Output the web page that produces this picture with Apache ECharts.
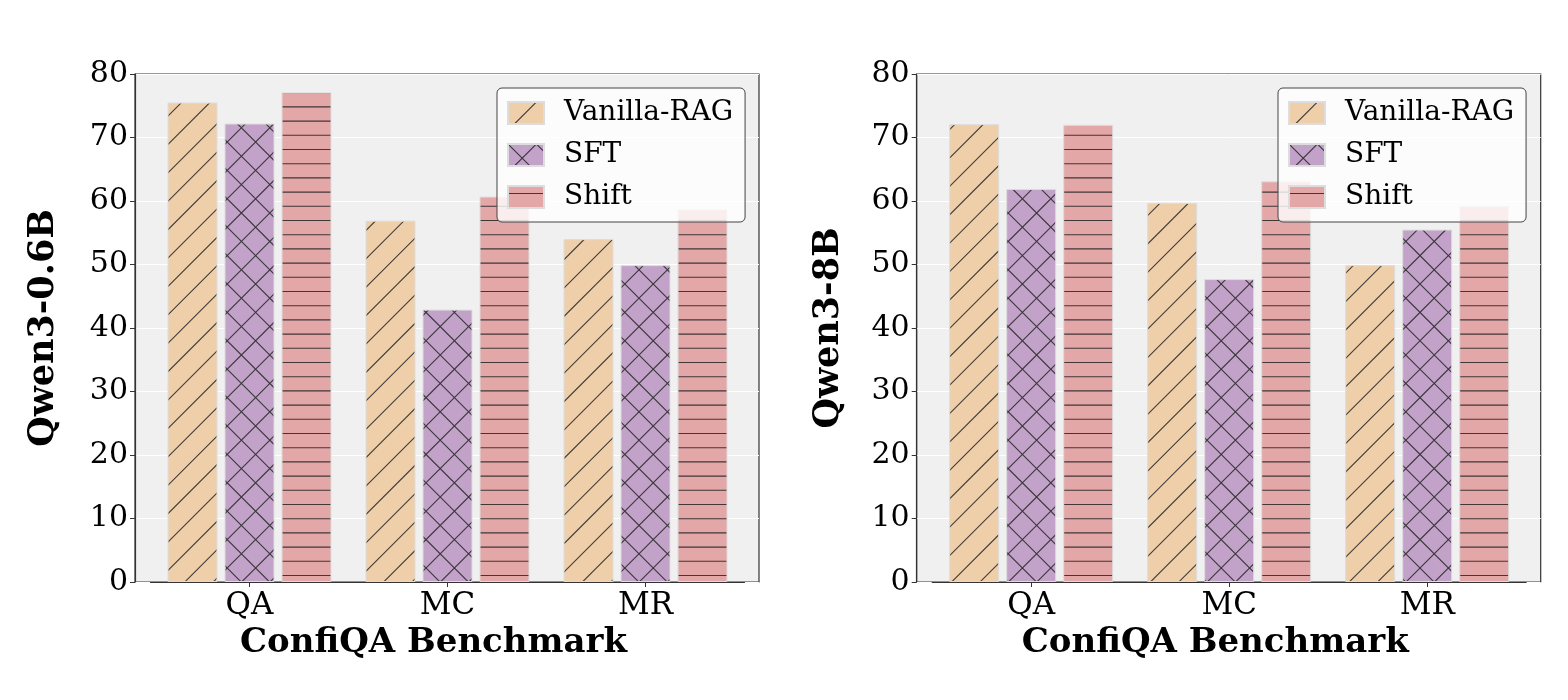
<!DOCTYPE html>
<html>
<head>
<meta charset="utf-8">
<title>ConfiQA Benchmark</title>
<script src="https://cdn.jsdelivr.net/npm/echarts@6/dist/echarts.min.js"></script>
<style>
  html, body { margin: 0; padding: 0; background: #fff; }
  #chart { width: 1568px; height: 700px; }
</style>
</head>
<body>
<div id="chart"></div>
<script>
// data
const categories = ['QA', 'MC', 'MR']
const seriesNames = ['Vanilla-RAG', 'SFT', 'Shift']
const yTicks = [0, 10, 20, 30, 40, 50, 60, 70, 80]

const smallVanilla = [75.5, 56.9, 54.0]
const smallSft = [72.2, 42.9, 49.9]
const smallShift = [77.1, 60.7, 58.7]

const bigVanilla = [72.1, 59.7, 49.9]
const bigSft = [61.9, 47.7, 55.5]
const bigShift = [72.0, 63.1, 59.2]

const FONT = 'DejaVu Serif'
const colors = ['#EFCFAA', '#C2A2C8', '#E4A7A8']

// 斜线 / 交叉 / 横线 填充
const makeHatch = (base, kind) => {
  const T = 142
  const step = 28.4
  const c = document.createElement('canvas')
  c.width = T
  c.height = T
  const ctx = c.getContext('2d')
  ctx.fillStyle = base
  ctx.fillRect(0, 0, T, T)
  ctx.strokeStyle = 'rgba(35,35,35,0.85)'
  ctx.lineWidth = 1.1
  ctx.beginPath()
  if (kind === '/' || kind === 'x') {
    for (let k = 0; k <= 10; k++) {
      const v = k * step
      ctx.moveTo(-20, v + 20)
      ctx.lineTo(v + 20, -20)
    }
  }
  if (kind === 'x') {
    for (let k = -5; k <= 5; k++) {
      const v = k * step
      ctx.moveTo(v - 20, -20)
      ctx.lineTo(v + T + 20, T + 20)
    }
  }
  if (kind === '-') {
    for (let k = 0; k < 10; k++) {
      const y = k * step / 2 + 7.5
      ctx.moveTo(0, y)
      ctx.lineTo(T, y)
    }
  }
  ctx.stroke()
  return { image: c, repeat: 'repeat' }
}

const fills = [
  makeHatch(colors[0], '/'),
  makeHatch(colors[1], 'x'),
  makeHatch(colors[2], '-')
]

// 外框 + 数据区
const panels = [
  { frameLeft: 135, name: 'Qwen3-0.6B', nameGap: 74, legendLeft: 497, values: [smallVanilla, smallSft, smallShift] },
  { frameLeft: 916.7, name: 'Qwen3-8B', nameGap: 70, legendLeft: 1278, values: [bigVanilla, bigSft, bigShift] }
]
const TOP = 74
const BOTTOM = 118
const FRAME_W = 624
const DATA_INSET = 15.5
const DATA_W = 594

const grid = []
const xAxis = []
const yAxis = []
const series = []
const legend = []

panels.forEach((p, i) => {
  const fg = i * 2
  const dg = i * 2 + 1
  grid.push({
    left: p.frameLeft, top: TOP, width: FRAME_W, bottom: BOTTOM,
    show: true, backgroundColor: '#F0F0F0', borderColor: '#333', borderWidth: 1.2
  })
  grid.push({ left: p.frameLeft + DATA_INSET, top: TOP, width: DATA_W, bottom: BOTTOM })

  xAxis.push({ type: 'category', gridIndex: fg, data: categories, show: false })
  xAxis.push({
    type: 'category',
    gridIndex: dg,
    data: categories,
    z: 5,
    axisLine: { show: true, lineStyle: { color: '#333', width: 1.2 } },
    axisTick: { show: true, alignWithLabel: true, length: 5, lineStyle: { color: '#333' } },
    axisLabel: { color: '#000', fontFamily: FONT, fontSize: 31, margin: 8 },
    name: 'ConfiQA Benchmark',
    nameLocation: 'middle',
    nameGap: 35,
    nameTextStyle: { color: '#000', fontFamily: FONT, fontSize: 34, fontWeight: 'bold', padding: [0, 28, 0, 0] }
  })

  yAxis.push({
    type: 'value',
    gridIndex: fg,
    min: yTicks[0],
    max: yTicks[yTicks.length - 1],
    interval: 10,
    axisLine: { show: true, lineStyle: { color: '#333', width: 1.2 } },
    axisTick: { show: true, length: 5, lineStyle: { color: '#333' } },
    axisLabel: { color: '#000', fontFamily: FONT, fontSize: 30, margin: 7 },
    splitLine: { show: true, lineStyle: { color: '#FFFFFF', width: 1 } },
    name: p.name,
    nameLocation: 'middle',
    nameGap: p.nameGap,
    nameRotate: 90,
    nameTextStyle: { color: '#000', fontFamily: FONT, fontSize: 35, fontWeight: 'bold' }
  })
  yAxis.push({ type: 'value', gridIndex: dg, min: 0, max: 80, show: false })

  seriesNames.forEach((name, k) => {
    series.push({
      name,
      type: 'bar',
      xAxisIndex: dg,
      yAxisIndex: dg,
      data: p.values[k],
      barWidth: 50,
      barGap: '14%',
      itemStyle: { color: fills[k], borderColor: '#DDDDDD', borderWidth: 1 },
      emphasis: { disabled: true }
    })
  })

  legend.push({
    data: seriesNames,
    orient: 'vertical',
    left: p.legendLeft,
    top: 88,
    icon: 'rect',
    itemWidth: 36,
    itemHeight: 22,
    itemGap: 14,
    padding: [11, 12, 11, 10],
    backgroundColor: 'rgba(255,255,255,0.8)',
    borderColor: '#444',
    borderWidth: 1,
    borderRadius: 5,
    selectedMode: false,
    textStyle: { color: '#000', fontFamily: FONT, fontSize: 28, lineHeight: 28, padding: [0, 0, 0, 15] }
  })
})

const chart = echarts.init(document.getElementById('chart'))
chart.setOption({
  animation: false,
  backgroundColor: '#FFFFFF',
  grid,
  xAxis,
  yAxis,
  legend,
  series
})
</script>
</body>
</html>
